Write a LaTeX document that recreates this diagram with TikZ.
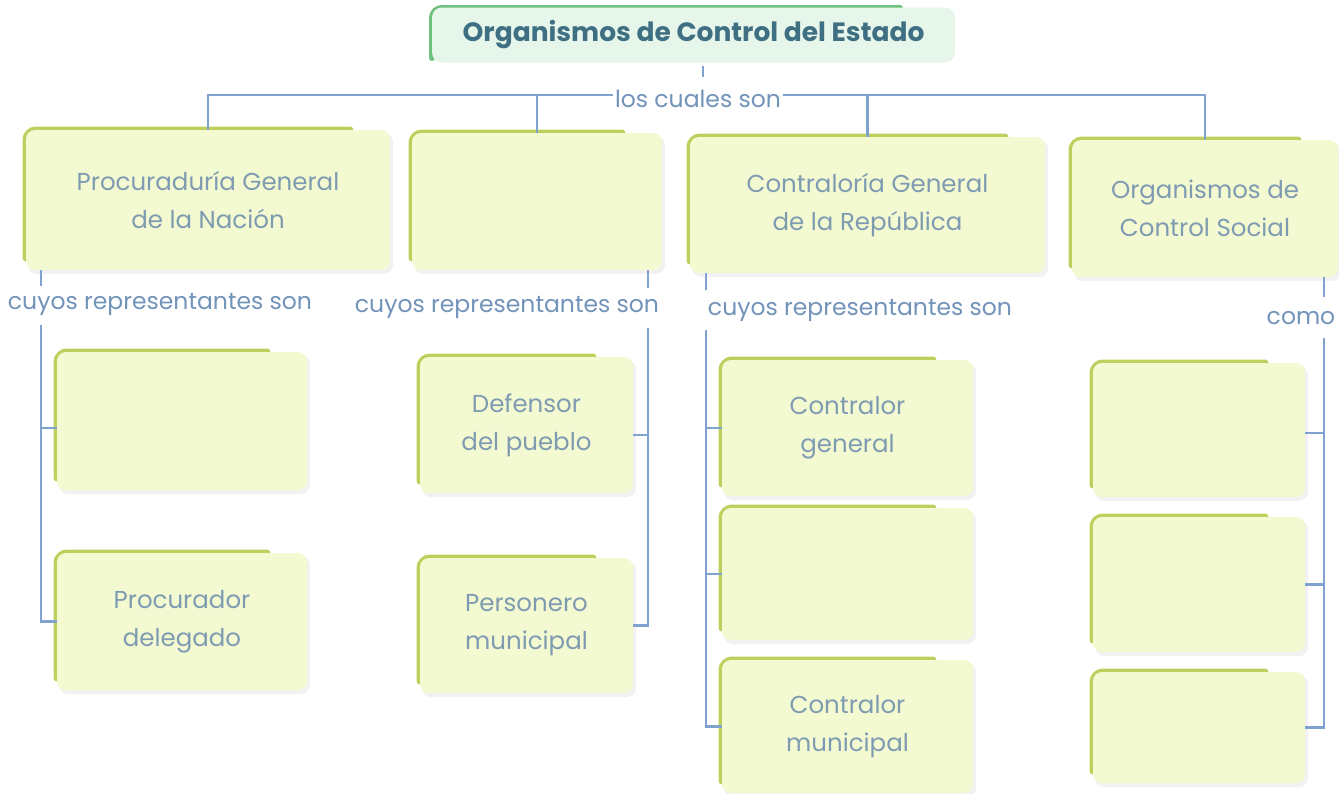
\documentclass[tikz,border=0pt]{standalone}
\usepackage{fontspec}
\setmainfont{Poppins}
\usetikzlibrary{calc}
\definecolor{boxfill}{HTML}{F3F9D0}
\definecolor{boxedge}{HTML}{BFCF5E}
\definecolor{boxtext}{HTML}{7E9BB2}
\definecolor{linkc}{HTML}{7FA2CE}
\definecolor{labc}{HTML}{7293BA}
\definecolor{titlefill}{HTML}{E7F6EA}
\definecolor{titleedge}{HTML}{6DC07E}
\definecolor{titletext}{HTML}{3E6F82}
\newcommand\cbox[6]{%
  \fill[black,opacity=0.05,rounded corners=9pt] (#2+2,#3+3) rectangle (#4+3,#5+4);
  \draw[boxedge,line width=7pt,line cap=round,rounded corners=10pt] (#2,#5-12) -- (#2,#3) -- (#4-40,#3);
  \node[box,minimum width={#4-#2},minimum height={#5-#3}] (#1) at ({(#2+#4)/2},{(#3+#5)/2}) {#6};
}
\begin{document}
\begin{tikzpicture}[x=1pt,y=-1pt,
  box/.style={fill=boxfill,rounded corners=9pt,text=boxtext,align=center,
    font=\fontsize{24.5}{38}\selectfont,inner sep=0pt},
  link/.style={draw=linkc,line width=2.2pt},
  lab/.style={text=labc,font=\fontsize{23.5}{26}\selectfont,inner sep=0pt}]
\useasboundingbox[fill=white] (0,0) rectangle (1339,793);

% title
\draw[titleedge,line width=6pt,line cap=round,rounded corners=10pt] (432,58) -- (432,8) -- (900,8);
\node[fill=titlefill,rounded corners=10pt,minimum width=523pt,minimum height=55pt,inner sep=0pt,
  text=titletext,font=\fontsize{26.5}{30}\selectfont\bfseries] (title) at (693.5,35) {Organismos de Control del Estado};
\coordinate (tt) at (703,66);
\draw[link] (tt) -- ++(0,11);
\node[lab,inner xsep=2pt] (lcs) at (698,99) {los cuales son};

% first level
\cbox{p1}{26}{130}{390}{270}{Procuraduría General\\de la Nación}
\cbox{p2}{412}{133}{662}{270}{}
\cbox{p3}{690}{137}{1045}{273}{Contraloría General\\de la República}
\cbox{p4}{1072}{140}{1338}{277}{Organismos de\\Control Social}

\draw[link] (p1.north) |- ([yshift=4pt]lcs.west);
\draw[link] (p2.north) -- (p2.north |- 0,95);
\draw[link] (p4.north) |- ([yshift=4pt]lcs.east);
\draw[link] (p3.north) -- (p3.north |- 0,95);

% second level
\cbox{a1}{57}{352}{307}{490}{}
\cbox{b1}{57}{553}{307}{690}{Procurador\\delegado}
\cbox{a2}{420}{357}{633}{493}{Defensor\\del pueblo}
\cbox{b2}{420}{558}{633}{693}{Personero\\municipal}
\cbox{a3}{722}{360}{973}{496}{Contralor\\general}
\cbox{b3}{722}{508}{973}{640}{}
\cbox{c3}{722}{660}{973}{793}{Contralor\\municipal}
\cbox{a4}{1093}{363}{1305}{497}{}
\cbox{b4}{1093}{517}{1305}{652}{}
\cbox{c4}{1093}{672}{1305}{783}{}

% labels
\node[lab] (r1) at (160,304) {cuyos representantes son};
\node[lab] (r2) at (507,307) {cuyos representantes son};
\node[lab] (r3) at (860,310) {cuyos representantes son};
\node[lab] (r4) at (1301,318) {como};

% branch 1
\coordinate (k1) at (41,325);
\draw[link] (p1.south -| k1) -- ++(0,16);
\draw[link] (k1) |- (b1.west);
\draw[link] (k1 |- 0,428) -- (a1.west |- 0,428);
% branch 2
\coordinate (k2) at (648,328);
\draw[link] (p2.south -| k2) -- ++(0,18);
\draw[link] (k2) |- (b2.east);
\draw[link] (k2 |- 0,435) -- (a2.east |- 0,435);
% branch 3
\coordinate (k3) at (706,330);
\draw[link] (p3.south -| k3) -- ++(0,17);
\draw[link] (k3) |- (c3.west);
\draw[link] (k3 |- 0,428) -- (a3.west |- 0,428);
\draw[link] (k3 |- b3.west) -- (b3.west);
% branch 4
\coordinate (k4) at (1324,338);
\draw[link] (p4.south -| k4) -- ++(0,20);
\draw[link] (k4) |- (c4.east);
\draw[link] (k4 |- 0,433) -- (a4.east |- 0,433);
\draw[link] (k4 |- b4.east) -- (b4.east);
\end{tikzpicture}
\end{document}
